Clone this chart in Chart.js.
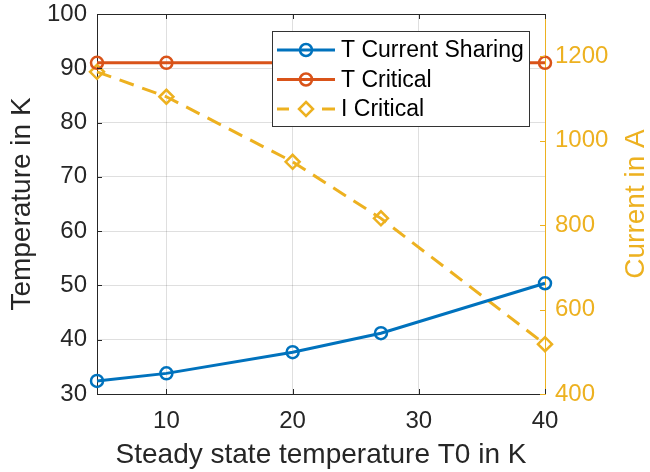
<!DOCTYPE html>
<html>
<head>
<meta charset="utf-8">
<script src="https://cdn.jsdelivr.net/npm/chart.js@4"></script>
<style>
  html, body { margin: 0; padding: 0; background: #fff; }
  #wrap { width: 650px; height: 472px; }
</style>
</head>
<body>
<div id="wrap"><canvas id="chart"></canvas></div>
<script>
const tempK = [4.5, 10, 20, 27, 40];
const tCurrentSharing = [32.4, 33.8, 37.7, 41.2, 50.4];
const tCritical = [91, 91, 91, 91, 91];
const iCritical = [1163, 1104, 950, 816, 518];

const xTicks = [10, 20, 30, 40];
const leftTicks = [30, 40, 50, 60, 70, 80, 90, 100];
const rightTicks = [400, 600, 800, 1000, 1200];

const BLUE = "#0072BD";
const ORANGE = "#D95319";
const YELLOW = "#EDB120";
const AXIS = "#262626";
const GRID = "rgba(38,38,38,0.15)";
const FONT = "'Liberation Sans', Arial, sans-serif";

function pts(ys) {
  return tempK.map((x, i) => ({ x, y: ys[i] }));
}

const fixTicks = list => scale => { scale.ticks = list.map(v => ({ value: v })); };
const plain = v => String(v);
// fixed box sizes, no extra room for overhanging labels
const fitY = w => s => { s.width = w; s.paddingTop = 0; s.paddingBottom = 0; };
const fitX = h => s => { s.height = h; s.paddingLeft = 0; s.paddingRight = 0; };

// border on top + inward tick marks like the original figure
const frame = {
  id: "frame",
  afterDraw(chart) {
    const { ctx, chartArea: a, scales } = chart;
    ctx.save();
    ctx.lineWidth = 1;
    ctx.strokeStyle = AXIS;
    ctx.beginPath();
    ctx.moveTo(a.left, a.top + 0.5);
    ctx.lineTo(a.right, a.top + 0.5);
    xTicks.forEach(v => {
      const px = Math.round(scales.x.getPixelForValue(v)) + 0.5;
      ctx.moveTo(px, a.bottom); ctx.lineTo(px, a.bottom - 5);
      ctx.moveTo(px, a.top); ctx.lineTo(px, a.top + 5);
    });
    leftTicks.forEach(v => {
      const py = Math.round(scales.y.getPixelForValue(v)) + 0.5;
      ctx.moveTo(a.left, py); ctx.lineTo(a.left + 5, py);
    });
    ctx.stroke();
    ctx.strokeStyle = YELLOW;
    ctx.beginPath();
    rightTicks.forEach(v => {
      const py = Math.round(scales.y2.getPixelForValue(v)) + 0.5;
      ctx.moveTo(a.right, py); ctx.lineTo(a.right - 5, py);
    });
    ctx.stroke();

    // right axis title reads bottom to top
    ctx.fillStyle = YELLOW;
    ctx.font = "28px " + FONT;
    ctx.textAlign = "center";
    ctx.textBaseline = "middle";
    ctx.translate(636, (a.top + a.bottom) / 2);
    ctx.rotate(-Math.PI / 2);
    ctx.fillText("Current in A", 0, 0);
    ctx.restore();
  }
};

// legend box inside the plot
const boxLegend = {
  id: "boxLegend",
  afterDatasetsDraw(chart) {
    const { ctx } = chart;
    const x0 = 272, y0 = 31, w = 257, h = 95;
    ctx.save();
    ctx.fillStyle = "#fff";
    ctx.fillRect(x0, y0, w, h);
    ctx.strokeStyle = "#333";
    ctx.lineWidth = 1;
    ctx.strokeRect(x0 + 0.5, y0 + 0.5, w, h);
    ctx.font = "23px " + FONT;
    ctx.textBaseline = "middle";
    chart.data.datasets.forEach((ds, i) => {
      const cy = y0 + 19 + i * 29.5;
      ctx.strokeStyle = ds.borderColor;
      ctx.lineWidth = 3;
      ctx.beginPath();
      if (ds.borderDash) {
        ctx.moveTo(277, cy); ctx.lineTo(289, cy);
        ctx.moveTo(322, cy); ctx.lineTo(335, cy);
      } else {
        ctx.moveTo(277, cy); ctx.lineTo(335, cy);
      }
      ctx.stroke();
      ctx.lineWidth = 2.5;
      ctx.beginPath();
      if (ds.pointStyle === "rectRot") {
        ctx.moveTo(306, cy - 7); ctx.lineTo(313, cy); ctx.lineTo(306, cy + 7); ctx.lineTo(299, cy); ctx.closePath();
      } else {
        ctx.arc(306, cy, 6, 0, Math.PI * 2);
      }
      ctx.stroke();
      ctx.fillStyle = "#000";
      ctx.fillText(ds.label, 341, cy + 1);
    });
    ctx.restore();
  }
};

new Chart(document.getElementById("chart"), {
  type: "line",
  data: {
    datasets: [
      {
        label: "T Current Sharing",
        data: pts(tCurrentSharing),
        yAxisID: "y",
        borderColor: BLUE,
        borderWidth: 3,
        pointStyle: "circle",
        pointRadius: 6,
        pointBorderWidth: 2.5,
        pointBackgroundColor: "transparent",
        pointBorderColor: BLUE,
        clip: false
      },
      {
        label: "T Critical",
        data: pts(tCritical),
        yAxisID: "y",
        borderColor: ORANGE,
        borderWidth: 3,
        pointStyle: "circle",
        pointRadius: 6,
        pointBorderWidth: 2.5,
        pointBackgroundColor: "transparent",
        pointBorderColor: ORANGE,
        clip: false
      },
      {
        label: "I Critical",
        data: pts(iCritical),
        yAxisID: "y2",
        borderColor: YELLOW,
        borderWidth: 3,
        borderDash: [15, 9],
        pointStyle: "rectRot",
        pointRadius: 7,
        pointBorderWidth: 2.5,
        pointBackgroundColor: "transparent",
        pointBorderColor: YELLOW,
        clip: false
      }
    ]
  },
  options: {
    responsive: true,
    maintainAspectRatio: false,
    animation: false,
    layout: { padding: { top: 14, left: 0, right: 0, bottom: 0 } },
    plugins: {
      legend: { display: false },
      tooltip: { enabled: false }
    },
    scales: {
      x: {
        type: "linear",
        min: 4.5,
        max: 40,
        afterBuildTicks: fixTicks(xTicks),
        afterFit: fitX(78),
        grid: { color: GRID, drawTicks: false },
        border: { color: AXIS, width: 1 },
        ticks: { color: AXIS, font: { family: FONT, size: 24 }, padding: 13, maxRotation: 0, callback: plain },
        title: {
          display: true,
          text: "Steady state temperature T0 in K",
          color: AXIS,
          font: { family: FONT, size: 28 },
          padding: { top: 0, bottom: 0 }
        }
      },
      y: {
        position: "left",
        min: 30,
        max: 100,
        afterBuildTicks: fixTicks(leftTicks),
        afterFit: fitY(97),
        grid: { color: GRID, drawTicks: false },
        border: { color: AXIS, width: 1 },
        ticks: { color: AXIS, font: { family: FONT, size: 24 }, padding: 10, callback: plain },
        title: {
          display: true,
          text: "Temperature in K",
          color: AXIS,
          font: { family: FONT, size: 28 },
          padding: { top: 5, bottom: 0 }
        }
      },
      y2: {
        position: "right",
        min: 400,
        max: 1300,
        afterBuildTicks: fixTicks(rightTicks),
        afterFit: fitY(105),
        grid: { display: false, drawTicks: false },
        border: { color: YELLOW, width: 1 },
        ticks: { color: YELLOW, font: { family: FONT, size: 24 }, padding: 10, callback: plain }
      }
    }
  },
  plugins: [frame, boxLegend]
});
</script>
</body>
</html>
